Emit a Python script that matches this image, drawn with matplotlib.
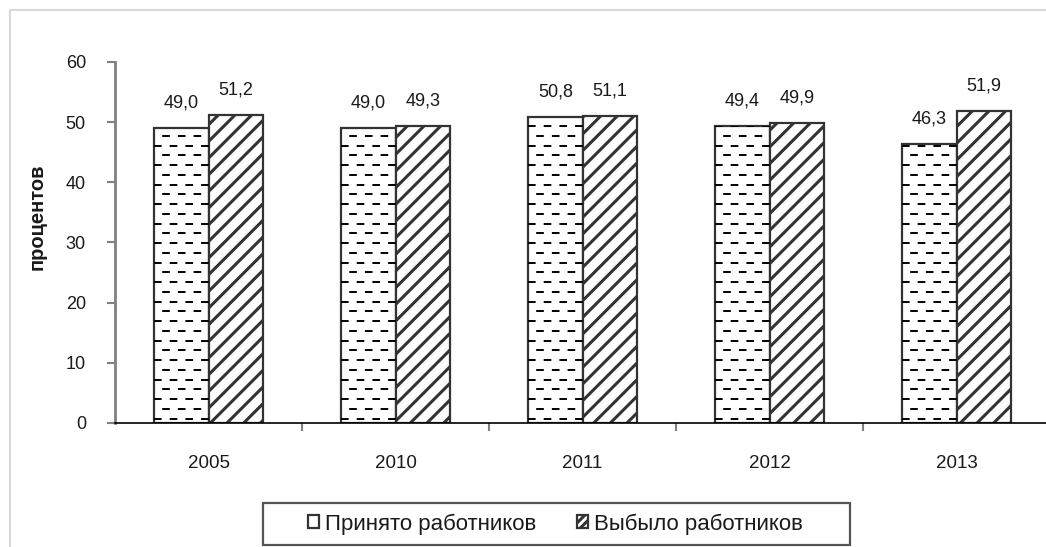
import matplotlib.pyplot as plt
import matplotlib.patches as mpatches
import numpy as np

plt.rcParams['font.family'] = ['Liberation Sans', 'DejaVu Sans']
plt.rcParams['hatch.linewidth'] = 2.2
plt.rcParams['lines.scale_dashes'] = False

years = ['2005', '2010', '2011', '2012', '2013']
hired = [49.0, 49.0, 50.8, 49.4, 46.3]
left_job = [51.2, 49.3, 51.1, 49.9, 51.9]
series_names = ['Принято работников', 'Выбыло работников']

EDGE = '#333333'
AXIS_GRAY = '#808080'
TEXT = '#1a1a1a'

fig = plt.figure(figsize=(10.46, 5.47), dpi=100)

# light outer frame of the chart area
fig.patches.append(mpatches.Rectangle((0.0096, -0.1), 1.2, 1.0817, transform=fig.transFigure,
                                      fill=False, edgecolor='#d9d9d9', linewidth=1.5))

ax = fig.add_axes([0.110, 0.2267, 0.894, 0.66])

x = np.arange(len(years))
w = 0.29

bars_a = ax.bar(x - w / 2, hired, w, facecolor='white', edgecolor=EDGE, linewidth=1.6, zorder=2)
bars_b = ax.bar(x + w / 2, left_job, w, facecolor='white', edgecolor=EDGE, linewidth=1.6,
                hatch='//', zorder=2)

# dashed horizontal fill for the first series, alternate rows shifted
step = 1.62
for bar in bars_a:
    x0, x1 = bar.get_x(), bar.get_x() + bar.get_width()
    rows = np.arange(step * 0.45, bar.get_height(), step)
    for k, yy in enumerate(rows):
        off = 0 if k % 2 == 0 else 5.4
        ln, = ax.plot([x0, x1], [yy, yy], color='black', linewidth=1.4,
                      linestyle=(off, (5.5, 5.8)), zorder=2.5)
        ln.set_clip_path(bar)

def fmt(v):
    return f'{v:.1f}'.replace('.', ',')

for bars, vals in ((bars_a, hired), (bars_b, left_job)):
    for bar, v in zip(bars, vals):
        ax.annotate(fmt(v), (bar.get_x() + bar.get_width() / 2, v),
                    xytext=(0, 18), textcoords='offset points',
                    ha='center', va='center', fontsize=13, color=TEXT)

ax.set_xlim(-0.5, len(years) - 0.5)
ax.set_ylim(0, 60)
ax.set_yticks(range(0, 61, 10))
ax.set_xticks(x)
ax.set_xticklabels(years)
ax.set_xticks(np.arange(0.5, len(years) - 0.5, 1), minor=True)

ax.tick_params(axis='y', length=6, width=1.5, color=AXIS_GRAY, labelsize=13,
               labelcolor=TEXT, pad=15)
ax.tick_params(axis='x', which='major', length=0, labelsize=13.5, labelcolor=TEXT, pad=23)
ax.tick_params(axis='x', which='minor', length=6, width=1.5, color=AXIS_GRAY, direction='out')

for s in ('top', 'right'):
    ax.spines[s].set_visible(False)
ax.spines['left'].set_color(AXIS_GRAY)
ax.spines['left'].set_linewidth(2)
ax.spines['bottom'].set_color('black')
ax.spines['bottom'].set_linewidth(1.2)
ax.spines['bottom'].set_zorder(3)

ax.set_ylabel('процентов', fontsize=14.5, fontweight='bold', color=TEXT, va='center')
ax.yaxis.set_label_coords(-0.083, 0.57)

handles = [
    mpatches.Patch(facecolor='white', edgecolor=EDGE, linewidth=1.6, label=series_names[0]),
    mpatches.Patch(facecolor='white', edgecolor=EDGE, linewidth=1.6, hatch='////', label=series_names[1]),
]
# legend entries without frame, boxed by a separate rectangle
leg = fig.legend(handles=handles, loc='center', bbox_to_anchor=(0.531, 0.042), ncol=2,
                 fontsize=16, frameon=False,
                 handlelength=0.5, handleheight=0.5, handletextpad=0.3, columnspacing=1.8,
                 borderpad=0, borderaxespad=0)
for t in leg.get_texts():
    t.set_color(TEXT)
fig.patches.append(mpatches.Rectangle((0.2514, 0.0037), 0.561, 0.0768, transform=fig.transFigure,
                                      fill=False, edgecolor='#555555', linewidth=1.6))

fig.savefig('out.png', dpi=100)
